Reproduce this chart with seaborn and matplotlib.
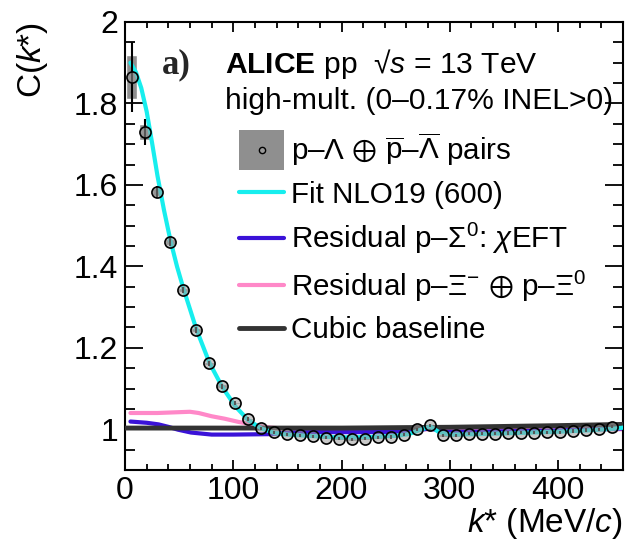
import numpy as np
import pandas as pd
import matplotlib
matplotlib.use("Agg")
import matplotlib.pyplot as plt
import seaborn as sns
from matplotlib.ticker import MultipleLocator, FuncFormatter
from matplotlib.patches import Rectangle
from matplotlib.lines import Line2D
from matplotlib.legend_handler import HandlerTuple, HandlerPatch

# --- data ---
k_data = [6, 18, 30, 42, 54, 66, 78, 90, 102, 114, 126, 138, 150, 162, 174, 186, 198,
          210, 222, 234, 246, 258, 270, 282, 294, 306, 318, 330, 342, 354, 366, 378,
          390, 402, 414, 426, 438, 450]
c_data = [1.865, 1.730, 1.582, 1.459, 1.342, 1.243, 1.162, 1.106, 1.064, 1.025, 1.002,
          0.993, 0.988, 0.985, 0.983, 0.979, 0.977, 0.975, 0.977, 0.980, 0.981, 0.987,
          1.000, 1.010, 0.985, 0.985, 0.989, 0.989, 0.989, 0.991, 0.992, 0.992, 0.993,
          0.993, 0.996, 0.998, 1.000, 1.006]
stat_err = [0.085, 0.033, 0.015, 0.010, 0.008, 0.007, 0.006, 0.006, 0.005, 0.005, 0.004,
            0.004, 0.004, 0.004, 0.004, 0.004, 0.004, 0.004, 0.004, 0.004, 0.004, 0.004,
            0.004, 0.004, 0.004, 0.004, 0.004, 0.004, 0.004, 0.004, 0.004, 0.004, 0.004,
            0.004, 0.004, 0.004, 0.004, 0.004]
syst_err = [0.055, 0.020, 0.010, 0.007, 0.006, 0.005, 0.004, 0.004, 0.003, 0.003, 0.003,
            0.003, 0.003, 0.003, 0.003, 0.003, 0.003, 0.003, 0.003, 0.003, 0.003, 0.003,
            0.003, 0.003, 0.003, 0.003, 0.003, 0.003, 0.003, 0.003, 0.003, 0.003, 0.003,
            0.003, 0.003, 0.003, 0.003, 0.003]

k_fit = [5, 10, 15, 20, 25, 30, 36, 42, 48, 54, 66, 78, 90, 102, 114, 126, 138, 150, 175,
         200, 225, 250, 262, 272, 282, 290, 300, 325, 350, 375, 400, 425, 450, 460]
c_fit = [1.900, 1.877, 1.838, 1.780, 1.703, 1.622, 1.538, 1.463, 1.400, 1.345, 1.245,
         1.163, 1.103, 1.056, 1.022, 1.002, 0.991, 0.987, 0.983, 0.980, 0.981, 0.984,
         0.988, 0.998, 1.007, 0.993, 0.987, 0.988, 0.990, 0.992, 0.994, 0.997, 1.001, 1.004]

k_sigma = [5, 20, 31, 40, 49, 61, 80, 100, 132, 154, 175, 200, 225, 250, 270, 282, 295,
           325, 350, 400, 460]
c_sigma = [1.019, 1.016, 1.012, 1.006, 0.999, 0.992, 0.987, 0.987, 0.988, 0.992, 0.993,
           0.993, 0.993, 0.994, 0.998, 1.002, 0.994, 0.994, 0.995, 0.997, 1.002]

k_xi = [5, 30, 60, 68, 80, 92, 105, 115, 125, 135, 150, 200, 300, 460]
c_xi = [1.040, 1.040, 1.043, 1.040, 1.032, 1.026, 1.018, 1.013, 1.008, 1.004, 1.001,
        1.000, 1.000, 1.000]

k_base = [0, 100, 200, 250, 300, 350, 400, 460]
c_base = [1.003, 1.003, 1.003, 1.004, 1.005, 1.007, 1.009, 1.012]

col_fit = "#17eeee"
col_sigma = "#3a12d8"
col_xi = "#ff88c8"
col_base = "#333333"
col_box = "#8f8f8f"

sns.set_theme(style="ticks")
plt.rcParams['font.family'] = ['Liberation Sans', 'DejaVu Sans']
plt.rcParams['mathtext.fontset'] = 'custom'
plt.rcParams['mathtext.rm'] = 'Liberation Sans'
plt.rcParams['mathtext.it'] = 'Liberation Sans:italic'
plt.rcParams['mathtext.bf'] = 'Liberation Sans:bold'
plt.rcParams['mathtext.fallback'] = 'stixsans'

fig, ax = plt.subplots(figsize=(6.27, 5.4), dpi=100)
fig.subplots_adjust(left=0.1994, right=0.9936, bottom=0.1296, top=0.9593)

k_arr = np.array(k_data)
c_arr = np.array(c_data)
s_arr = np.array(syst_err)

# systematic boxes
ax.bar(k_arr, 2 * s_arr, bottom=c_arr - s_arr, width=11, color=col_box, zorder=1)

sns.lineplot(x=k_xi, y=c_xi, color=col_xi, lw=3, ax=ax, zorder=2)
sns.lineplot(x=k_sigma, y=c_sigma, color=col_sigma, lw=3, ax=ax, zorder=2.5)
sns.lineplot(x=k_base, y=c_base, color=col_base, lw=3.5, ax=ax, zorder=3)
sns.lineplot(x=k_fit, y=c_fit, color=col_fit, lw=3, ax=ax, zorder=4)

ax.errorbar(k_data, c_data, yerr=stat_err, fmt='none', ecolor='black',
            elinewidth=1.5, zorder=5)
sns.scatterplot(x=k_data, y=c_data, s=64, color=(0.62, 0.62, 0.62, 0.55),
                edgecolor='black', linewidth=1.2, zorder=6, ax=ax)

ax.set_xlim(0, 460)
ax.set_ylim(0.9, 2.0)
ax.xaxis.set_major_locator(MultipleLocator(100))
ax.xaxis.set_minor_locator(MultipleLocator(20))
ax.yaxis.set_major_locator(MultipleLocator(0.2))
ax.yaxis.set_minor_locator(MultipleLocator(0.05))
ax.yaxis.set_major_formatter(FuncFormatter(lambda v, p: f"{v:g}"))
ax.tick_params(which='both', direction='in', top=True, right=True,
               color='black', width=1.3, labelsize=23, labelcolor='black')
ax.tick_params(axis='x', which='major', length=7.5, pad=4)
ax.tick_params(axis='x', which='minor', length=4)
ax.tick_params(axis='y', which='major', length=13, pad=5)
ax.tick_params(axis='y', which='minor', length=7)
for sp in ax.spines.values():
    sp.set_color('black')
    sp.set_linewidth(1.5)

ax.set_xlabel("$k$* (MeV/$c$)", loc='right', fontsize=24, color='black', labelpad=0)
ax.set_ylabel("C($k$*)", loc='top', fontsize=24, color='black', labelpad=17)

ax.text(0.074, 0.886, "a)", transform=ax.transAxes, fontsize=25,
        fontweight='bold', family=['Liberation Serif', 'DejaVu Serif'])
ax.text(0.201, 0.886, r"$\mathbf{ALICE}$ pp  √$s$ = 13 TeV", transform=ax.transAxes,
        fontsize=21.6, color='black')
ax.text(0.201, 0.806, "high-mult. (0–0.17% INEL>0)", transform=ax.transAxes,
        fontsize=21.6, color='black')

# legend
box_h = Rectangle((0, 0), 1, 1, facecolor=col_box, edgecolor='none')
mk_h = Line2D([], [], ls='none', marker='o', ms=4.5, mfc='#999999', mec='black', mew=1)
h_fit = Line2D([], [], color=col_fit, lw=3)
h_sig = Line2D([], [], color=col_sigma, lw=3)
h_xi = Line2D([], [], color=col_xi, lw=3)
h_base = Line2D([], [], color=col_base, lw=3.5)


def tall_box(legend, orig_handle, xdescent, ydescent, width, height, fontsize):
    return Rectangle((-xdescent, -ydescent - 7), width, height + 14)


labels = [r"p–Λ $\oplus$ $\overline{\mathrm{p}}$–$\overline{\Lambda}$ pairs",
          "Fit NLO19 (600)",
          r"Residual p–Σ$^{0}$: $\chi$EFT",
          r"Residual p–Ξ$^{-}$ $\oplus$ p–Ξ$^{0}$",
          "Cubic baseline"]
leg = ax.legend([(box_h, mk_h), h_fit, h_sig, h_xi, h_base], labels,
                handler_map={box_h: HandlerPatch(patch_func=tall_box),
                             tuple: HandlerTuple(ndivide=1, pad=0)},
                loc='upper left', bbox_to_anchor=(0.229, 0.757), frameon=False,
                fontsize=21.3, handlelength=1.52, handletextpad=0.22,
                labelspacing=0.42, borderpad=0, borderaxespad=0)
for t in leg.get_texts():
    t.set_color('black')

plt.savefig("out.png", dpi=100)
plt.close()
